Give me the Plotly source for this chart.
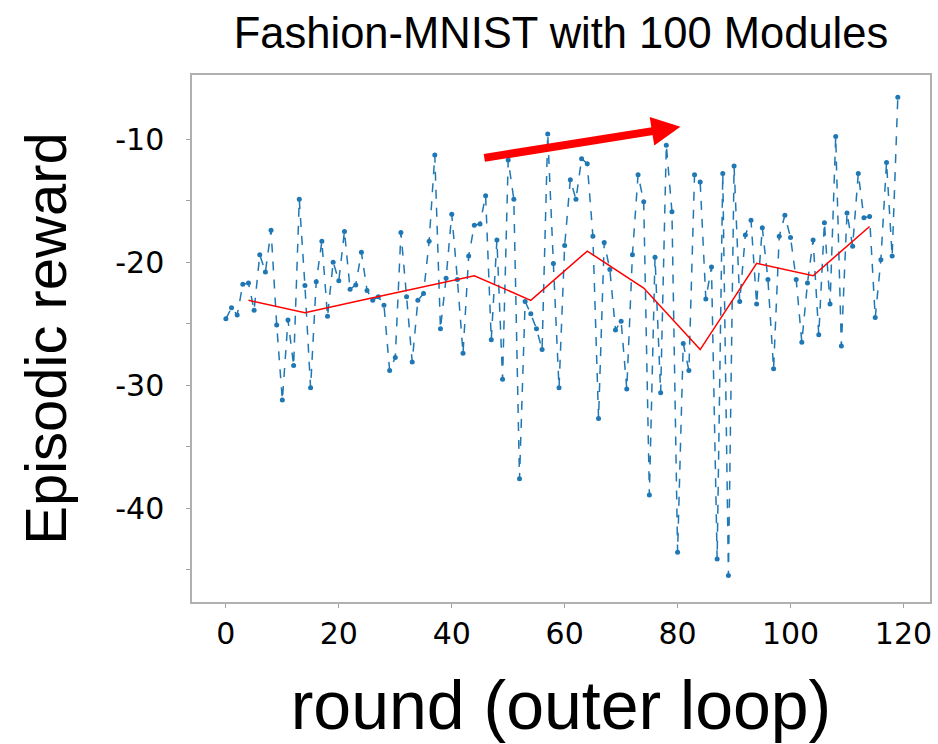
import plotly.graph_objects as go

rounds = list(range(120))
reward = [
    -24.6, -23.7, -24.3, -21.8, -21.7, -23.9, -19.4, -20.8, -17.4, -25.1,
    -31.2, -24.7, -28.4, -14.9, -21.9, -30.2, -21.6, -18.3, -24.4, -20.0,
    -21.5, -17.5, -22.2, -21.85, -19.2, -22.3, -23.1, -22.8, -23.5, -28.8,
    -27.75, -17.6, -22.8, -28.1, -23.1, -22.55, -18.3, -11.3, -25.4, -21.3,
    -16.1, -21.4, -27.4, -19.5, -17.0, -16.9, -14.6, -26.3, -18.2, -29.5,
    -11.7, -14.9, -37.6, -23.2, -24.2, -25.4, -27.1, -9.6, -20.1, -30.2,
    -18.65, -13.3, -14.9, -11.6, -12.0, -17.9, -32.7, -18.4, -20.6, -25.5,
    -24.8, -30.3, -19.4, -12.9, -15.1, -38.9, -19.6, -30.6, -10.5, -15.9,
    -43.55, -26.6, -28.8, -12.9, -13.5, -23.0, -20.4, -44.1, -12.8, -45.45,
    -12.2, -23.2, -17.8, -16.6, -23.4, -17.2, -21.4, -28.65, -17.9, -16.2,
    -18.0, -21.4, -26.5, -21.7, -18.2, -25.9, -16.8, -23.4, -9.8, -26.8,
    -16.0, -18.7, -12.8, -16.4, -16.3, -24.5, -19.8, -11.9, -19.5, -6.6,
]

trend_x = [4, 14, 24, 34, 44, 54, 64, 74, 84, 94, 104, 114]
trend_y = [-23.1, -24.1, -23.1, -22.1, -21.1, -23.1, -19.1, -22.1, -27.1, -20.1, -21.1, -17.1]

arrow_start = (45.5, -11.55)
arrow_end = (80.5, -9.0)

x_ticks = [0, 20, 40, 60, 80, 100, 120]
y_ticks = [-45, -40, -35, -30, -25, -20, -15, -10]
y_ticktext = ["", "-40", "", "-30", "", "-20", "", "-10"]

fig = go.Figure()
fig.add_trace(go.Scatter(
    x=rounds, y=reward, mode="lines+markers",
    line=dict(color="#1f77b4", width=1.5, dash="dash"),
    marker=dict(color="#1f77b4", size=5),
    showlegend=False,
))
fig.add_trace(go.Scatter(
    x=trend_x, y=trend_y, mode="lines",
    line=dict(color="#ff0000", width=1.5),
    showlegend=False,
))

fig.add_annotation(
    x=arrow_end[0], y=arrow_end[1], ax=arrow_start[0], ay=arrow_start[1],
    xref="x", yref="y", axref="x", ayref="y",
    text="", showarrow=True, arrowhead=2, arrowsize=0.72, arrowwidth=8,
    arrowcolor="#ff0000",
)

axis_common = dict(
    showgrid=False, zeroline=False, showline=True, mirror=True,
    linecolor="#b0b0b0", linewidth=1.5,
    ticks="outside", ticklen=4, tickcolor="#a0a0a0", tickwidth=1,
)

fig.update_layout(
    width=938, height=744,
    margin=dict(l=192, r=6, t=75, b=142),
    paper_bgcolor="white", plot_bgcolor="white",
    font=dict(family="DejaVu Sans", color="black"),
    title=dict(
        text="Fashion-MNIST with 100 Modules",
        x=0.5, xref="paper", xanchor="center",
        y=1 - 33 / 744, yref="container", yanchor="middle",
        font=dict(family="Liberation Sans", size=43.5, color="black"),
    ),
    xaxis=dict(
        range=[-6.0, 124.7], tickvals=x_ticks,
        tickfont=dict(family="DejaVu Sans", size=30),
        title=dict(text="round (outer loop)", standoff=32,
                   font=dict(family="Liberation Sans", size=68)),
        **axis_common,
    ),
    yaxis=dict(
        range=[-47.6, -4.8], tickvals=y_ticks, ticktext=y_ticktext,
        ticklabelstandoff=16,
        tickfont=dict(family="DejaVu Sans", size=30),
        title=dict(text="Episodic reward", standoff=30,
                   font=dict(family="Liberation Sans", size=58)),
        **axis_common,
    ),
)

fig.write_html("out.html")
